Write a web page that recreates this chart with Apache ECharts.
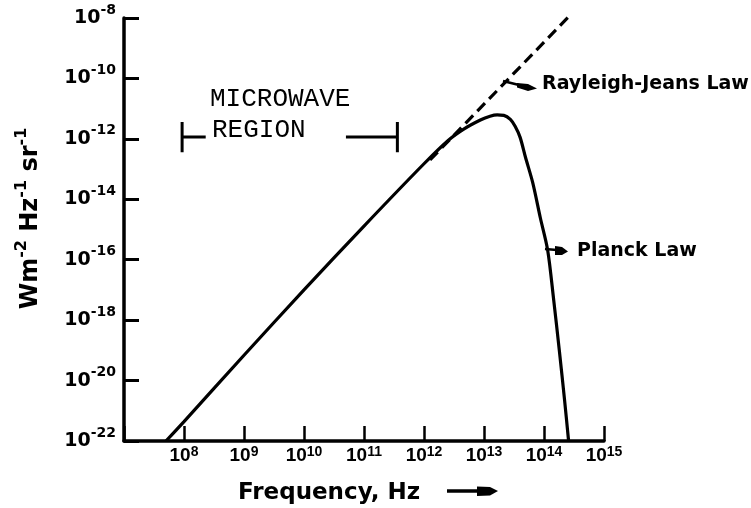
<!DOCTYPE html>
<html><head><meta charset="utf-8">
<script src="https://cdn.jsdelivr.net/npm/echarts@6/dist/echarts.min.js"></script>
<style>html,body{margin:0;padding:0;background:#fff}#c{width:751px;height:508px}</style>
</head><body><div id="c"></div>
<script>
// Planck curve, frequency in Hz, radiance in W m^-2 Hz^-1 sr^-1
const planckFreq = [5.0e7, 1e8, 1e9, 1e10, 1e11, 1e12, 2.5e12, 4.6e12, 8.7e12, 1.26e13, 1.66e13, 2.14e13, 2.75e13, 3.3e13, 4.0e13, 4.9e13, 6.5e13, 8.7e13, 1.15e14, 1.45e14, 1.8e14, 2.2e14, 2.57e14];
const planckRadiance = [1e-22, 4.4e-22, 6.9e-20, 1.0e-17, 1.3e-15, 1.5e-13, 8.7e-13, 2.1e-12, 4.2e-12, 5.6e-12, 6.2e-12, 6.0e-12, 4.4e-12, 2.6e-12, 1.12e-12, 2.5e-13, 3.5e-14, 2.4e-15, 2.1e-16, 4.7e-18, 1.0e-19, 2.3e-21, 1e-22];
// Rayleigh-Jeans asymptote (dashed)
const rjFreq = [1.26e12, 2.75e14];
const rjRadiance = [2.0e-13, 1.26e-8];
// Microwave region bracket
const microwaveFreq = [9.3e7, 3.6e11];
const bracketInner = [2.3e8, 5.0e10];
const bracketRadiance = [3.6e-12, 1.15e-12, 3.6e-13]; // top, middle, bottom
// axis ranges and tick exponents
const xRange = [1e7, 1e15];
const yRange = [1e-22, 1e-8];
const xTickExp = [8, 9, 10, 11, 12, 13, 14, 15];
const yTickExp = [-22, -20, -18, -16, -14, -12, -10, -8];

// the axes are decades (log10), built from the values above
const L = Math.log10;
const pts = (fs, rs) => fs.map((f, i) => [L(f), L(rs[i])]);

const chart = echarts.init(document.getElementById('c'), null, {renderer: 'canvas'});
const black = '#000';
const seg = (data, w) => ({type: 'line', data, showSymbol: false, symbol: 'none', silent: true,
  lineStyle: {color: black, width: w}});
const option = {
  animation: false,
  backgroundColor: '#fff',
  grid: {left: 124, right: 147, top: 18, bottom: 67, containLabel: false},
  xAxis: {
    type: 'value', min: L(xRange[0]), max: L(xRange[1]), interval: 1,
    axisLine: {lineStyle: {color: black, width: 3.5}},
    axisTick: {inside: true, length: 15, lineStyle: {color: black, width: 2.5}},
    splitLine: {show: false},
    axisLabel: {
      margin: 4,
      formatter: v => xTickExp.includes(Math.round(v)) ? '{b|10}{s|' + Math.round(v) + '}' : '',
      rich: {
        b: {fontFamily: 'Liberation Sans', fontWeight: 'bold', fontSize: 19, lineHeight: 22, color: black},
        s: {fontFamily: 'Liberation Sans', fontWeight: 'bold', fontSize: 14, lineHeight: 12, verticalAlign: 'top', color: black}
      }
    }
  },
  yAxis: {
    type: 'value', min: L(yRange[0]), max: L(yRange[1]), interval: 2,
    name: '{b|Wm}{s|-2}{b| Hz}{s|-1}{b| sr}{s|-1}',
    nameLocation: 'middle', nameGap: 76,
    nameTextStyle: {
      padding: [0, 0, 0, 22],
      rich: {
        b: {fontFamily: 'DejaVu Sans', fontWeight: 'bold', fontSize: 24, lineHeight: 34, color: black},
        s: {fontFamily: 'DejaVu Sans', fontWeight: 'bold', fontSize: 16, lineHeight: 16, verticalAlign: 'top', color: black}
      }
    },
    axisLine: {lineStyle: {color: black, width: 3.5}},
    axisTick: {inside: true, length: 15, lineStyle: {color: black, width: 3}},
    splitLine: {show: false},
    axisLabel: {
      margin: 8,
      formatter: v => yTickExp.includes(Math.round(v)) ? '{b|10}{s|' + Math.round(v) + '}' : '',
      rich: {
        b: {fontFamily: 'DejaVu Sans', fontWeight: 'bold', fontSize: 19, lineHeight: 30, color: black},
        s: {fontFamily: 'DejaVu Sans', fontWeight: 'bold', fontSize: 14, lineHeight: 14, verticalAlign: 'top', color: black}
      }
    }
  },
  series: [
    {type: 'line', name: 'Planck Law', data: pts(planckFreq, planckRadiance), showSymbol: false, symbol: 'none',
     smooth: 0.3, lineStyle: {color: black, width: 3.2}, z: 3},
    {type: 'line', name: 'Rayleigh-Jeans Law', data: pts(rjFreq, rjRadiance), showSymbol: false, symbol: 'none', clip: false,
     lineStyle: {color: black, width: 3.2, type: [11, 6], cap: 'butt'}, z: 2},
    seg(pts([microwaveFreq[0], microwaveFreq[0]], [bracketRadiance[0], bracketRadiance[2]]), 3),
    seg(pts([microwaveFreq[0], bracketInner[0]], [bracketRadiance[1], bracketRadiance[1]]), 3),
    seg(pts([microwaveFreq[1], microwaveFreq[1]], [bracketRadiance[0], bracketRadiance[2]]), 3),
    seg(pts([bracketInner[1], microwaveFreq[1]], [bracketRadiance[1], bracketRadiance[1]]), 3)
  ],
  graphic: [
    {type: 'text', style: {x: 210, y: 99.5, text: 'MICROWAVE', font: '26px "Liberation Mono"', fill: black, align: 'left', verticalAlign: 'middle'}},
    {type: 'text', style: {x: 212, y: 130.5, text: 'REGION', font: '26px "Liberation Mono"', fill: black, align: 'left', verticalAlign: 'middle'}},
    {type: 'text', style: {x: 542, y: 84, text: 'Rayleigh-Jeans Law', font: 'bold 19px "DejaVu Sans"', fill: black, align: 'left', verticalAlign: 'middle'}},
    {type: 'text', style: {x: 577, y: 251, text: 'Planck Law', font: 'bold 19px "DejaVu Sans"', fill: black, align: 'left', verticalAlign: 'middle'}},
    {type: 'text', style: {x: 238, y: 493, text: 'Frequency, Hz', font: 'bold 23px "DejaVu Sans"', fill: black, align: 'left', verticalAlign: 'middle'}},
    {type: 'polyline', shape: {points: [[503, 81], [519, 85]]}, style: {stroke: black, lineWidth: 2.5, fill: null}},
    {type: 'polygon', shape: {points: [[517, 83], [528, 84], [537, 88.5], [528, 91], [517, 87.5]]}, style: {fill: black}},
    {type: 'polyline', shape: {points: [[545, 249], [557, 250]]}, style: {stroke: black, lineWidth: 2.5, fill: null}},
    {type: 'polygon', shape: {points: [[555, 246], [562, 247], [568, 251.5], [562, 255], [555, 255]]}, style: {fill: black}},
    {type: 'polyline', shape: {points: [[447, 491], [482, 491]]}, style: {stroke: black, lineWidth: 3.5, fill: null}},
    {type: 'polygon', shape: {points: [[477, 486.5], [490, 487], [498, 491], [490, 495.5], [477, 496]]}, style: {fill: black}}
  ]
};
chart.setOption(option);
</script>
</body></html>
